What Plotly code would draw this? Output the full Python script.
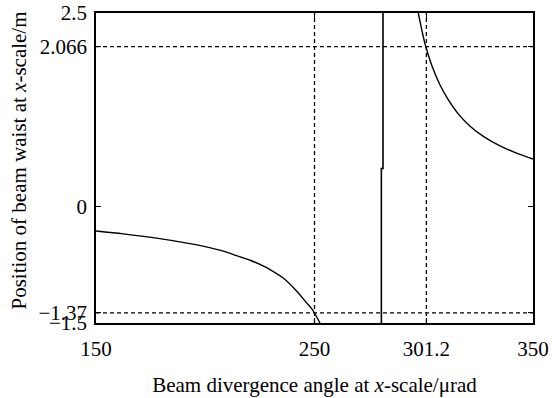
import plotly.graph_objects as go

# Left branch of the curve (x in µrad, y in m)
left_x = [150, 162.5, 177.7, 193.0, 200.0, 208.3, 214.0, 220.5, 225.0, 229.6, 235.7, 241.9, 246.4, 249.1, 252.5]
left_y = [-0.313, -0.350, -0.405, -0.476, -0.515, -0.573, -0.627, -0.690, -0.745, -0.81, -0.92, -1.09, -1.24, -1.33, -1.5]

# Steep jump near the pole
pole_x = [280.6, 280.6, 281.35, 281.35]
pole_y = [-1.5, 0.494, 0.494, 2.5]

# Right branch of the curve
right_x = [297.5, 300.6, 303.6, 307.4, 311.2, 315.8, 321.2, 327.3, 334.9, 342.5, 350]
right_y = [2.5, 2.10, 1.83, 1.575, 1.382, 1.198, 1.04, 0.908, 0.785, 0.692, 0.615]

# Reference (dashed) lines
vline_x = [250, 301.2]
hline_y = [2.066, -1.37]

x_range = [150, 350]
y_range = [-1.5, 2.5]

x_tickvals = [150, 250, 301.2, 350]
x_ticktext = ["150", "250", "301.2", "350"]
y_tickvals = [-1.5, -1.37, 0, 2.066, 2.5]
y_ticktext = ["\u22121.5", "\u22121.37", "0", "2.066", "2.5"]

fig = go.Figure()
dash_style = dict(color="black", width=1.3, dash="4px,3px")
for vx in vline_x:
    fig.add_trace(go.Scatter(x=[vx, vx], y=y_range, mode="lines", line=dash_style,
                             showlegend=False, hoverinfo="skip"))
for hy in hline_y:
    fig.add_trace(go.Scatter(x=x_range, y=[hy, hy], mode="lines", line=dash_style,
                             showlegend=False, hoverinfo="skip"))

solid = dict(color="black", width=1.4, shape="spline", smoothing=0.8)
fig.add_trace(go.Scatter(x=left_x, y=left_y, mode="lines", line=solid, showlegend=False))
fig.add_trace(go.Scatter(x=pole_x, y=pole_y, mode="lines", line=dict(color="black", width=1.6), showlegend=False))
fig.add_trace(go.Scatter(x=right_x, y=right_y, mode="lines", line=solid, showlegend=False))

font = dict(family="Liberation Serif, Times New Roman, serif", size=21, color="black")

fig.update_layout(
    width=552, height=398,
    margin=dict(l=96, r=19, t=13, b=75, autoexpand=False),
    paper_bgcolor="white", plot_bgcolor="white",
    font=font,
    showlegend=False,
)
fig.update_xaxes(
    range=x_range, tickvals=x_tickvals, ticktext=x_ticktext,
    showgrid=False, zeroline=False, automargin=False,
    showline=True, linecolor="black", linewidth=1.6, mirror="ticks",
    ticks="inside", ticklen=5, tickcolor="black", tickwidth=1,
    ticklabelstandoff=6,
    title=dict(text="Beam divergence angle at <i>x</i>-scale/\u03bcrad", font=dict(size=21), standoff=17),
)
fig.update_yaxes(
    range=y_range, tickvals=y_tickvals, ticktext=y_ticktext,
    showgrid=False, zeroline=False, automargin=False,
    showline=True, linecolor="black", linewidth=1.6, mirror="ticks",
    ticks="inside", ticklen=5, tickcolor="black", tickwidth=1,
    ticklabelstandoff=3,
)
fig.add_annotation(
    text="Position of beam waist at <i>x</i>-scale/m",
    xref="paper", yref="paper", x=-(96 - 18) / 437, y=(323 - 160.5) / 310,
    xanchor="center", yanchor="middle", textangle=-90, showarrow=False,
    font=dict(size=21),
)

fig.write_html("out.html")
